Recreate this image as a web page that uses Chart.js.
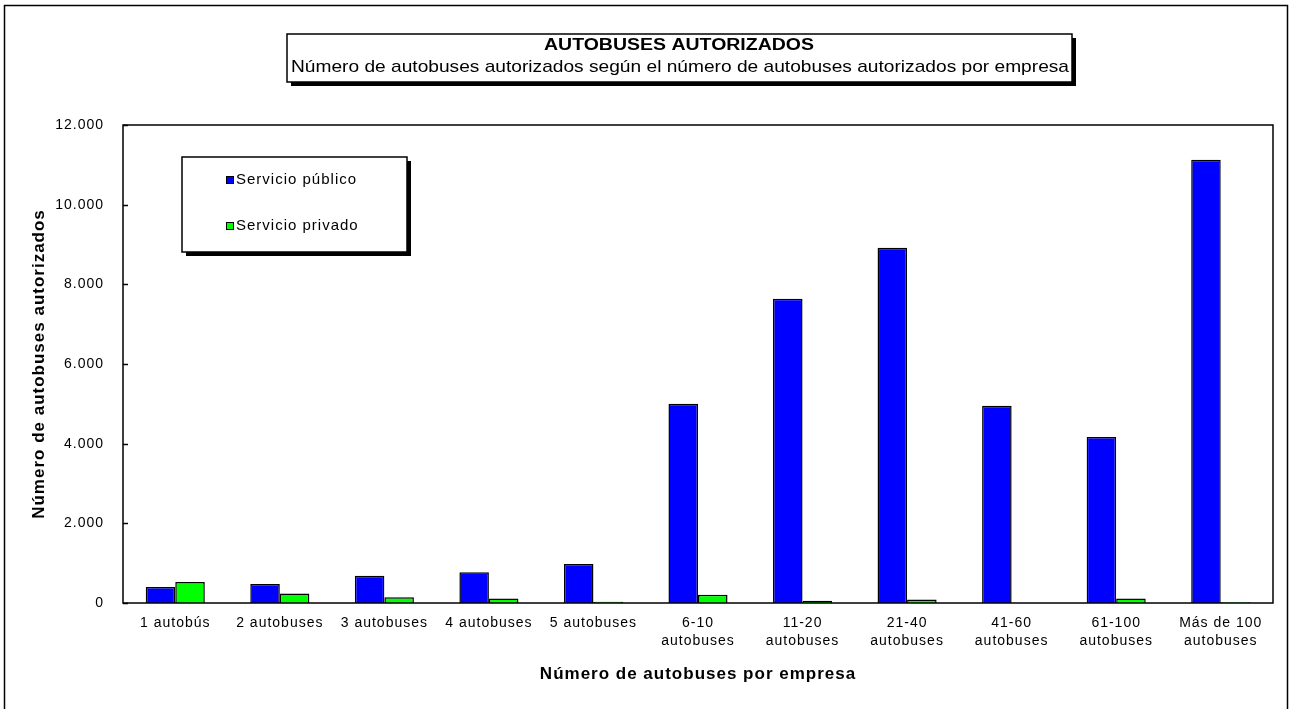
<!DOCTYPE html>
<html>
<head>
<meta charset="utf-8">
<script src="https://cdn.jsdelivr.net/npm/chart.js@4.4.1/dist/chart.umd.min.js"></script>
<style>
  html, body { margin: 0; padding: 0; background: #fff; }
  #wrap { width: 1296px; height: 709px; }
</style>
</head>
<body>
<div id="wrap"><canvas id="chart" width="1296" height="709"></canvas></div>
<script>
// datos
const categories = ["1 autobús", "2 autobuses", "3 autobuses", "4 autobuses", "5 autobuses",
    ["6-10", "autobuses"], ["11-20", "autobuses"], ["21-40", "autobuses"],
    ["41-60", "autobuses"], ["61-100", "autobuses"], ["Más de 100", "autobuses"]]
const publico = [400, 475, 685, 770, 980, 5000, 7640, 8920, 4950, 4170, 11130]
const privado = [525, 240, 145, 110, 30, 205, 55, 85, 0, 110, 20]
const yTicks = [0, 2000, 4000, 6000, 8000, 10000, 12000]

const titleText = "AUTOBUSES AUTORIZADOS"
const subtitleText = "Número de autobuses autorizados según el número de autobuses autorizados por empresa"

const FONT = "'Liberation Sans', Arial, sans-serif"

function fmt(v) {
    return String(v).replace(/\B(?=(\d{3})+(?!\d))/g, ".")
}

function boxWithShadow(ctx, x, y, w, h) {
    ctx.fillStyle = "#000"
    ctx.fillRect(x + 4, y + 4, w, h)
    ctx.fillStyle = "#fff"
    ctx.fillRect(x, y, w, h)
    ctx.strokeStyle = "#000"
    ctx.lineWidth = 1.5
    ctx.strokeRect(x, y, w, h)
}

// el original tiene el texto algo ensanchado
function stretchedText(ctx, text, cx, cy, font, width) {
    ctx.font = font
    const w = ctx.measureText(text).width
    ctx.save()
    ctx.translate(cx, cy)
    ctx.scale(width / w, 1)
    ctx.textAlign = "center"
    ctx.textBaseline = "middle"
    ctx.fillStyle = "#000"
    ctx.fillText(text, 0, 0)
    ctx.restore()
}

const decor = {
    id: "decor",
    beforeDraw(chart) {
        const ctx = chart.ctx
        ctx.save()
        ctx.fillStyle = "#fff"
        ctx.fillRect(0, 0, chart.width, chart.height)
        ctx.strokeStyle = "#000"
        ctx.lineWidth = 1.5
        ctx.strokeRect(4.5, 5.5, 1283, 710)
        ctx.restore()
        ctx.letterSpacing = "1px"
    },
    afterDraw(chart) {
        const ctx = chart.ctx
        const a = chart.chartArea
        const y = chart.scales.y
        ctx.save()
        ctx.letterSpacing = "0px"
        // marco del area de trazado
        ctx.strokeStyle = "#000"
        ctx.lineWidth = 1.5
        ctx.strokeRect(a.left, a.top, a.right - a.left, a.bottom - a.top)
        // marcas del eje y hacia dentro
        yTicks.forEach(t => {
            const py = Math.round(y.getPixelForValue(t)) + 0.5
            ctx.beginPath()
            ctx.moveTo(a.left, py)
            ctx.lineTo(a.left + 5, py)
            ctx.stroke()
        })

        // titulo
        boxWithShadow(ctx, 287, 34, 785, 48)
        stretchedText(ctx, titleText, 679, 46, "bold 16px " + FONT, 270)
        stretchedText(ctx, subtitleText, 680, 67, "17px " + FONT, 778)

        // leyenda
        boxWithShadow(ctx, 182, 157, 225, 95)
        const rows = [180, 226]
        chart.data.datasets.forEach((ds, i) => {
            const ry = rows[i]
            ctx.fillStyle = ds.backgroundColor
            ctx.fillRect(226, ry - 4, 8, 8)
            ctx.strokeStyle = "#000"
            ctx.lineWidth = 1
            ctx.strokeRect(226.5, ry - 3.5, 7, 7)
            ctx.fillStyle = "#000"
            ctx.font = "15px " + FONT
            ctx.letterSpacing = "1px"
            ctx.textAlign = "left"
            ctx.textBaseline = "middle"
            ctx.fillText(ds.label, 236, ry)
            ctx.letterSpacing = "0px"
        })
        ctx.restore()
        ctx.letterSpacing = "0px"
    }
}

new Chart(document.getElementById("chart"), {
    type: "bar",
    data: {
        labels: categories,
        datasets: [
            {
                label: "Servicio público",
                data: publico,
                backgroundColor: "#0000ff",
                borderColor: "#000",
                borderWidth: 1.5
            },
            {
                label: "Servicio privado",
                data: privado,
                backgroundColor: "#00ff00",
                borderColor: "#000",
                borderWidth: 1.5
            }
        ]
    },
    options: {
        responsive: false,
        animation: false,
        layout: { padding: { left: 10, top: 125, right: 23, bottom: 0 } },
        datasets: { bar: { categoryPercentage: 0.565, barPercentage: 1 } },
        plugins: {
            legend: { display: false },
            tooltip: { enabled: false }
        },
        scales: {
            x: {
                grid: { display: false },
                border: { display: false },
                ticks: {
                    color: "#000",
                    font: { family: FONT, size: 14, lineHeight: 1.3 },
                    padding: 3,
                    maxRotation: 0,
                    autoSkip: false
                },
                title: {
                    display: true,
                    text: "Número de autobuses por empresa",
                    color: "#000",
                    font: { family: FONT, size: 17, weight: "bold" },
                    padding: { top: 0, bottom: 24 }
                },
                afterFit(s) { s.height = 106 }
            },
            y: {
                min: 0,
                max: 12000,
                grid: { display: false },
                border: { display: false },
                afterBuildTicks(s) { s.ticks = yTicks.map(v => ({ value: v })) },
                ticks: {
                    color: "#000",
                    font: { family: FONT, size: 14 },
                    padding: 11,
                    callback: v => fmt(v)
                },
                title: {
                    display: true,
                    text: "Número de autobuses autorizados",
                    color: "#000",
                    font: { family: FONT, size: 17, weight: "bold" },
                    padding: { top: 19, bottom: 0 }
                },
                afterFit(s) { s.width = 113 }
            }
        }
    },
    plugins: [decor]
})
</script>
</body>
</html>
